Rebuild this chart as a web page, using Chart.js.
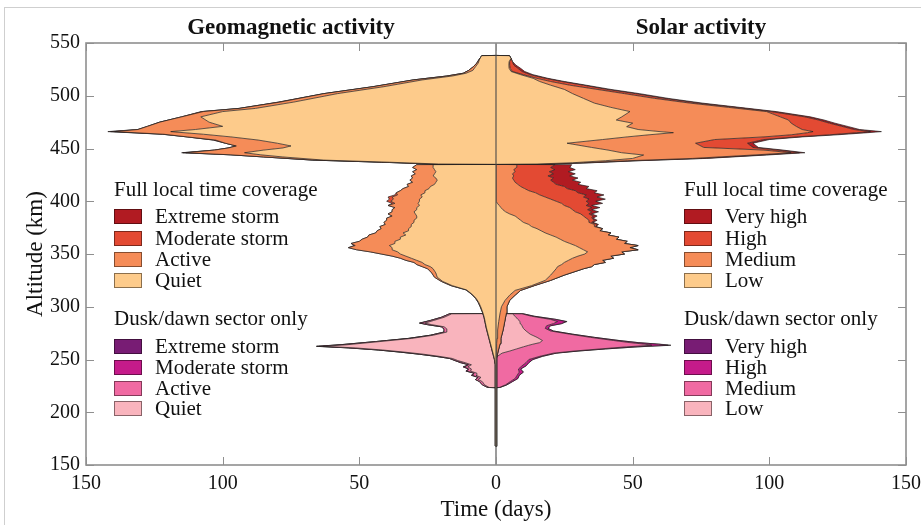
<!DOCTYPE html>
<html><head><meta charset="utf-8">
<script src="https://cdn.jsdelivr.net/npm/chart.js@4.4.1/dist/chart.umd.min.js"></script>
<style>
body{margin:0;background:#fff;}
#wrap{position:relative;width:921px;height:525px;overflow:hidden;font-family:"Liberation Serif",serif;color:#111;}
#c{position:absolute;left:0;top:0;}
.frame{position:absolute;left:4px;top:7px;width:960px;height:600px;border:1px solid #cfcfcf;}
.title{position:absolute;font-weight:bold;font-size:23px;transform:translate(-50%,-50%);white-space:nowrap;}
.lt{position:absolute;font-size:21px;line-height:24px;white-space:nowrap;}
.lb{position:absolute;width:26px;height:13px;border:1px solid rgba(0,0,0,0.45);}
</style></head>
<body><div id="wrap"><div class="frame"></div><canvas id="c" width="921" height="525"></canvas></div>
<script>
// ---------- data (days spent at each altitude, km) ----------
const xTickValues = [-150, -100, -50, 0, 50, 100, 150];
const yTickValues = [150, 200, 250, 300, 350, 400, 450, 500, 550];

const geoLabels = ['Extreme storm', 'Moderate storm', 'Active', 'Quiet'];
const solarLabels = ['Very high', 'High', 'Medium', 'Low'];
const fullColors = ['#b11b22', '#e34a33', '#f58c58', '#fdcb8b'];
const duskColors = ['#781c74', '#c51b8a', '#f06aa2', '#f9b4bd'];

// Geomagnetic, full LT coverage, upper part
const geoTopAlt = [435, 435.3, 437, 439, 442, 444, 446, 448.5, 450.5, 452.4, 455, 458, 461, 463.5, 466, 468, 471, 475, 480, 485, 488, 494, 502, 508.6, 515, 518.7, 521.3, 524, 527.5, 531, 534, 536.5, 538, 538.2];
const geoTopQuiet = [0, 21, 39, 63, 78, 86, 92, 85, 78, 75, 80, 87, 97, 107, 119, 110, 100, 105, 108, 100, 88, 74, 58, 41, 27, 16, 11, 8.5, 7.5, 6.5, 6.1, 5.6, 5.2, 0];
const geoTopActive = [0, 1.9, 3, 4, 7, 11, 21.5, 18, 20, 20, 19, 15.6, 16, 14.5, 20.5, 21, 27.5, 18, 7, 7.1, 6, 5, 5, 4, 3.3, 2, 1, 1.5, 0.8, 0.5, 0.2, 0, 0, 0];
const geoTopModerate = [0, 0, 0, 0, 0, 0, 1, 0, 0, 0, 0, 0.8, 0, 0.5, 1.5, 0, 0, 0, 0, 0.6, 0, 0.5, 0, 0, 0, 0, 0, 0, 0, 0, 0, 0, 0, 0];
const geoTopExtreme = [0, 0, 0, 0, 0, 0, 0.5, 0, 0, 0, 0, 0, 0, 0, 1, 0, 0, 0, 0, 0, 0, 0, 0, 0, 0, 0, 0, 0, 0, 0, 0, 0, 0, 0];

// Geomagnetic, full LT coverage, lower part (no extreme-storm days)
const geoMidAlt = [167.8, 168, 180, 200, 220, 235, 245, 250, 255, 260, 265, 270, 275, 280, 285, 290, 295, 300, 304, 308, 312, 316, 320, 324, 328, 332,
  336, 338, 340, 342, 344, 346, 348, 350, 352, 354, 356, 358, 360, 362, 364, 366, 368, 370, 372, 374, 376, 378, 380, 382, 384, 386, 388, 390, 392, 394,
  396, 398, 400, 402, 404, 406, 408, 410, 412, 414, 416, 418, 420, 422, 424, 426, 428, 430, 432, 434.7, 435];
const geoMidQuiet = [0, 0.2, 0.25, 0.25, 0.25, 0.25, 0.3, 0.5, 1, 1.5, 2, 2.5, 3, 3.5, 3.9, 4.3, 4.9, 5.6, 6.3, 7.3, 8.8, 10.8, 16, 19.5, 21.5, 22,
  23, 24, 26, 27, 29, 31, 33, 35, 36, 38, 38, 39, 37, 37, 35, 35, 33, 34, 32, 32, 31, 31, 30, 30, 29, 29, 29.5, 30, 29, 29,
  28, 28.5, 28, 28, 27, 27.5, 26, 26, 24.5, 24, 22.5, 22, 21.5, 22, 23, 22.5, 22, 22.5, 23, 23, 0];
const geoMidActive = [0, 0, 0, 0, 0.05, 0.05, 0.05, 0.1, 0.1, 0.1, 0.1, 0.1, 0.1, 0.1, 0.1, 0.1, 0.1, 0.2, 0.2, 0.2, 0.2, 0.2, 0.5, 0.5, 1, 1.5,
  2, 3, 3, 3, 4, 4, 5, 7, 10, 13, 16, 12.5, 16, 13, 14, 12, 13.5, 10, 11.5, 10, 11.5, 9.5, 11, 10, 11, 9, 10, 8, 9, 8,
  11.5, 8.5, 10.5, 9.5, 11, 8.5, 10.5, 9, 9.5, 8, 10, 8.5, 10, 8.5, 8, 7, 8.5, 6.5, 7.5, 6, 0];
const geoMidModerate = [0, 0, 0, 0, 0, 0, 0, 0, 0, 0, 0, 0, 0, 0, 0, 0, 0, 0, 0, 0, 0, 0, 0, 0, 0, 0,
  0, 0, 0, 0, 0, 0, 0, 0, 0, 0, 0, 0.5, 0, 0, 0, 0, 0, 0, 0, 0, 0, 0, 0, 0, 0, 0, 0, 0, 0, 0,
  0, 1, 1.5, 1.5, 1.5, 1, 0, 0, 0, 0, 0, 0, 0, 0, 0, 0, 0, 0, 0, 0, 0];

// Geomagnetic, dusk/dawn sector only
const geoDuskAlt = [223.3, 223.5, 226, 229, 231, 233, 235, 237, 239, 241, 243, 245, 247, 249, 251, 253, 255, 257, 259, 261, 262.5, 264, 267, 270, 273, 276, 279, 281, 283, 284.5, 287, 290, 293.3, 293.5];
const geoDuskQuiet = [0, 2.5, 4.2, 5, 6.5, 5.5, 7.3, 7, 9.3, 9, 10.3, 9, 11.3, 14, 16, 20.8, 26.5, 33.5, 41.5, 51.5, 63.2, 54.5, 42.5, 30.8, 23, 18, 18, 19, 23.5, 26, 22.8, 19, 16.2, 0];
const geoDuskActive = [0, 0.5, 0.8, 1, 1, 1, 1.2, 1, 1.2, 1, 1.2, 1, 1.2, 1, 1, 1.2, 1.5, 1.5, 1.5, 2, 1.5, 2, 1.5, 1.2, 1, 1, 1, 1, 1.5, 1.5, 1.2, 1, 0.8, 0];
const geoDuskModerate = [0, 0, 0, 0, 0, 0, 0.5, 0, 0.5, 0, 0.5, 0, 0.5, 0, 0, 0, 0, 0, 0, 0.5, 0.8, 0.5, 0, 0, 0, 0, 0, 0, 0, 0.5, 0, 0, 0, 0];
const geoDuskExtreme = [0, 0, 0, 0, 0, 0, 0, 0, 0, 0, 0, 0, 0, 0, 0, 0, 0, 0, 0, 0, 0.3, 0, 0, 0, 0, 0, 0, 0, 0, 0, 0, 0, 0, 0];

// Solar, full LT coverage, upper part
const solarTopAlt = [435, 435.3, 436.5, 438.4, 440.6, 443.8, 446, 448.5, 451, 455, 458.5, 461, 463, 465, 466, 468, 470.7, 474, 477, 480, 485, 489, 493, 497.5, 502, 506, 510, 513.5, 516.5, 520, 523, 526, 529, 532.3, 535.5, 538, 538.2];
const solarTopLow = [0, 15, 28, 40, 50, 54, 46, 41, 35, 26, 39, 48, 56, 64.9, 60, 52, 47.8, 50, 44, 46, 49, 42, 36, 32, 28, 25, 20, 16, 13.6, 9, 5.5, 4.8, 4.7, 4.8, 5.5, 4.9, 0];
const solarTopMedium = [0, 3, 4, 8, 22, 40, 62, 57, 41, 47, 41, 50, 52, 49.1, 56, 60, 62.2, 58, 63, 58, 50, 43, 35, 26, 19, 12, 7, 4, 1.4, 1, 0.5, 0.4, 0.3, 0.2, 0, 0, 0];
const solarTopHigh = [0, 1.5, 2, 3, 3.5, 3, 3, 5, 18, 19, 18, 12, 14, 18, 21, 19, 17, 14, 11, 9, 1.5, 2.5, 3, 3.5, 4, 3.5, 5, 4, 3, 2.5, 3.5, 2.8, 1.5, 1, 0, 0, 0];
const solarTopVeryHigh = [0, 0.5, 1, 1, 1.5, 2, 2, 2, 2, 2, 2, 2, 3, 4, 4, 2, 2, 2, 2, 2, 2, 1.5, 1.6, 1.5, 1.5, 1.5, 1, 1, 1, 1, 1, 1, 0.8, 0.1, 0, 0, 0];

// Solar, full LT coverage, lower part
const solarMidAlt = [167.8, 168, 180, 200, 220, 235, 245, 252, 258, 265, 270, 278, 286, 294, 300, 306, 311, 315.5, 320, 325, 330,
  336, 338, 340, 342, 344, 346, 348, 350, 352, 354, 356, 358, 360, 362, 364, 366, 368, 370, 372, 374, 376, 378, 380, 382, 384, 386, 388, 390, 392, 394,
  396, 398, 400, 402, 404, 406, 408, 410, 412, 414, 416, 418, 420, 422, 424, 426, 428, 430, 432, 434.7, 435];
const solarMidLow = [0, 0.2, 0.25, 0.25, 0.25, 0.25, 0.25, 0.2, 0.2, 0.3, 0.4, 0.6, 1, 1.5, 2, 3.3, 5, 7, 13, 18, 20,
  22, 22.5, 24, 25, 26.5, 28, 30, 32.5, 33.5, 32, 30.5, 29, 27, 25, 23.5, 22, 20, 18, 16.5, 15, 13, 12, 10, 9, 8, 7, 5, 3.5, 2.5, 1.8,
  1.2, 0.5, 0, 0, 0, 0, 0, 0, 0, 0, 0, 0, 0, 0, 0, 0, 0, 0, 0, 0, 0];
const solarMidMedium = [0, 0, 0, 0, 0.05, 0.05, 0.05, 0.1, 0.6, 1.2, 1.4, 2, 2.2, 2.3, 2, 1.7, 2, 2, 1, 2, 5,
  10, 12.5, 12, 15, 12.5, 15, 12, 14.5, 12.5, 20, 18.5, 23, 20, 23, 20.5, 23, 21, 24, 21.5, 24, 23, 24, 24, 25, 25, 25, 26, 25.5, 25.5, 25.2,
  23.8, 23.5, 22, 20, 18, 16, 14.5, 12, 10.5, 9, 8, 7, 6.5, 6, 6.5, 6, 7, 6.5, 7.5, 7.6, 0];
const solarMidHigh = [0, 0, 0, 0, 0, 0, 0, 0, 0, 0, 0, 0, 0, 0, 0, 0, 0, 0, 0, 0, 0,
  0, 0, 0, 0, 0, 0, 0, 0, 0, 0, 0, 0, 0, 0, 0, 0, 0, 0, 0, 0, 0.5, 1, 1, 2, 2, 3.5, 3, 6, 5.5, 8,
  8, 10, 11, 14, 14, 17, 15.5, 17, 15.5, 16, 14, 14, 13.5, 15, 12.5, 15, 12.5, 15, 12.5, 14, 0];
const solarMidVeryHigh = [0, 0, 0, 0, 0, 0, 0, 0, 0, 0, 0, 0, 0, 0, 0, 0, 0, 0, 0, 0, 0,
  0, 0, 0, 0, 0, 0, 0, 0, 0, 0, 0, 0, 0, 0, 0, 0, 0, 0, 0, 0, 0, 0.5, 0.5, 1, 0.5, 1.5, 1, 2.5, 1.5, 3,
  2, 5, 3.5, 6, 5, 6.5, 6, 8, 7, 9, 8, 10, 8, 9, 8, 8, 7, 7.5, 7, 6.1, 0];

// Solar, dusk/dawn sector only
const solarDuskAlt = [223.3, 223.5, 226, 229, 232, 235, 238, 241, 244, 247, 250, 253, 256, 258, 260, 262, 263.5, 264.5, 266, 268, 271, 274, 277, 279.5, 282, 284, 286, 288, 291, 293.3, 293.5];
const solarDuskLow = [0, 0, 0, 0, 0, 0, 0, 0, 0, 0, 0, 0.5, 2.2, 5, 7.5, 10, 12, 13.5, 16, 17, 15, 12.5, 11, 10, 9.5, 9, 8.8, 8, 7, 6, 0];
const solarDuskMedium = [0, 1.2, 3.5, 5.2, 7, 7.7, 8.5, 8.2, 9.5, 11, 12, 15.5, 18.8, 23.5, 30.5, 37.7, 45, 41, 33, 26, 19.5, 14.5, 9, 8, 9, 12, 13.7, 12, 6, 3.5, 0];
const solarDuskHigh = [0, 0.3, 0.5, 0.8, 1, 0.8, 1.5, 0.8, 1.5, 1, 1.5, 1, 1, 1.5, 2, 4, 6, 5, 3, 2, 1.5, 1, 1, 1, 1.5, 3, 3, 2, 1, 0.5, 0];
const solarDuskVeryHigh = [0, 0, 0, 0, 0, 0, 0, 0, 0, 0, 0, 0, 0, 0, 0, 0.3, 1, 0.5, 0, 0, 0, 0, 0, 0, 0, 0, 0.5, 0, 0, 0, 0];

// ---------- build stacked layers ----------
const datasets = [];
function addGroup(alts, layers, colors, sign, order) {
  const cum = alts.map(() => 0);
  layers.forEach((vals, k) => {
    vals.forEach((v, i) => { cum[i] += v; });
    const idx = datasets.length;
    datasets.push({
      data: alts.map((a, i) => ({x: sign * cum[i], y: a})),
      backgroundColor: colors[k],
      borderColor: 'rgba(35,30,30,0.9)',
      borderWidth: 0.8,
      pointRadius: 0,
      tension: 0,
      fill: k === 0 ? 'origin' : idx - 1,
      order: order
    });
  });
}
// inner -> outer, colours reversed from legend order
const fullInner = fullColors.slice().reverse();
const duskInner = duskColors.slice().reverse();
addGroup(geoDuskAlt, [geoDuskQuiet, geoDuskActive, geoDuskModerate, geoDuskExtreme], duskInner, -1, 3);
addGroup(solarDuskAlt, [solarDuskLow, solarDuskMedium, solarDuskHigh, solarDuskVeryHigh], duskInner, 1, 3);
addGroup(geoMidAlt, [geoMidQuiet, geoMidActive, geoMidModerate], fullInner, -1, 2);
addGroup(solarMidAlt, [solarMidLow, solarMidMedium, solarMidHigh, solarMidVeryHigh], fullInner, 1, 2);
addGroup(geoTopAlt, [geoTopQuiet, geoTopActive, geoTopModerate, geoTopExtreme], fullInner, -1, 1);
addGroup(solarTopAlt, [solarTopLow, solarTopMedium, solarTopHigh, solarTopVeryHigh], fullInner, 1, 1);
// zero line
datasets.push({data: [{x: 0, y: 150}, {x: 0, y: 550}], borderColor: '#4a4a4a', borderWidth: 1.1, pointRadius: 0, fill: false, order: 0});

const frameTicks = {
  id: 'frameTicks',
  afterDatasetsDraw(chart) {
    const {ctx, chartArea: a, scales: {x, y}} = chart;
    ctx.save();
    ctx.strokeStyle = '#8f8f8f';
    ctx.lineWidth = 1;
    const ln = (x1, y1, x2, y2) => { ctx.beginPath(); ctx.moveTo(x1, y1); ctx.lineTo(x2, y2); ctx.stroke(); };
    xTickValues.forEach(v => {
      const px = Math.round(x.getPixelForValue(v)) + 0.5;
      ln(px, a.bottom, px, a.bottom - 8);
      ln(px, a.top, px, a.top + 8);
    });
    yTickValues.forEach(v => {
      const py = Math.round(y.getPixelForValue(v)) + 0.5;
      ln(a.left, py, a.left + 8, py);
      ln(a.right, py, a.right - 8, py);
    });
    ctx.lineWidth = 1.6;
    ctx.strokeRect(a.left, a.top, a.right - a.left, a.bottom - a.top);
    ctx.restore();
  }
};

const serif = '"Liberation Serif", serif';
new Chart(document.getElementById('c'), {
  type: 'line',
  data: {datasets},
  options: {
    indexAxis: 'y',
    responsive: false,
    animation: false,
    devicePixelRatio: 1,
    layout: {padding: {left: 0, top: 43, right: 15, bottom: 0}},
    plugins: {legend: {display: false}, tooltip: {enabled: false}},
    scales: {
      x: {
        type: 'linear', min: -150, max: 150,
        afterBuildTicks: s => { s.ticks = xTickValues.map(v => ({value: v})); },
        afterFit: s => { s.height = 60; s.paddingLeft = 0; s.paddingRight = 0; },
        grid: {display: false, drawTicks: false},
        border: {display: false},
        ticks: {color: '#111', font: {family: serif, size: 20}, padding: 7, maxRotation: 0,
                callback: v => String(Math.abs(v))},
        title: {display: true, text: 'Time (days)', color: '#111', font: {family: serif, size: 23}, padding: {top: 0, bottom: 1}}
      },
      y: {
        type: 'linear', min: 150, max: 550,
        afterBuildTicks: s => { s.ticks = yTickValues.map(v => ({value: v})); },
        afterFit: s => { s.width = 86; s.paddingTop = 0; s.paddingBottom = 0; },
        grid: {display: false, drawTicks: false},
        border: {display: false},
        ticks: {color: '#111', font: {family: serif, size: 20}, padding: 6},
        title: {display: true, text: 'Altitude (km)', color: '#111', font: {family: serif, size: 23}, padding: {top: 22, bottom: 0}}
      }
    }
  },
  plugins: [frameTicks]
});

// ---------- titles and legends ----------
const wrap = document.getElementById('wrap');
function addTitle(text, cx, cy) {
  const d = document.createElement('div');
  d.className = 'title'; d.textContent = text;
  d.style.left = cx + 'px'; d.style.top = cy + 'px';
  wrap.appendChild(d);
}
addTitle('Geomagnetic activity', 291, 27);
addTitle('Solar activity', 701, 27);

function addText(text, x, cy) {
  const d = document.createElement('div');
  d.className = 'lt'; d.textContent = text;
  d.style.left = x + 'px'; d.style.top = (cy - 12) + 'px';
  wrap.appendChild(d);
}
function addLegend(boxX, textX, headY, header, rowsY, labels, colors) {
  addText(header, boxX, headY);
  labels.forEach((lab, i) => {
    const b = document.createElement('div');
    b.className = 'lb';
    b.style.left = boxX + 'px'; b.style.top = (rowsY[i] - 7) + 'px';
    b.style.background = colors[i];
    wrap.appendChild(b);
    addText(lab, textX, rowsY[i]);
  });
}
const fullRows = [216, 237.5, 259, 280];
const duskRows = [346, 367, 388, 408];
addLegend(114, 155, 189, 'Full local time coverage', fullRows, geoLabels, fullColors);
addLegend(114, 155, 318, 'Dusk/dawn sector only', duskRows, geoLabels, duskColors);
addLegend(684, 725, 189, 'Full local time coverage', fullRows, solarLabels, fullColors);
addLegend(684, 725, 318, 'Dusk/dawn sector only', duskRows, solarLabels, duskColors);
</script>
</body></html>
